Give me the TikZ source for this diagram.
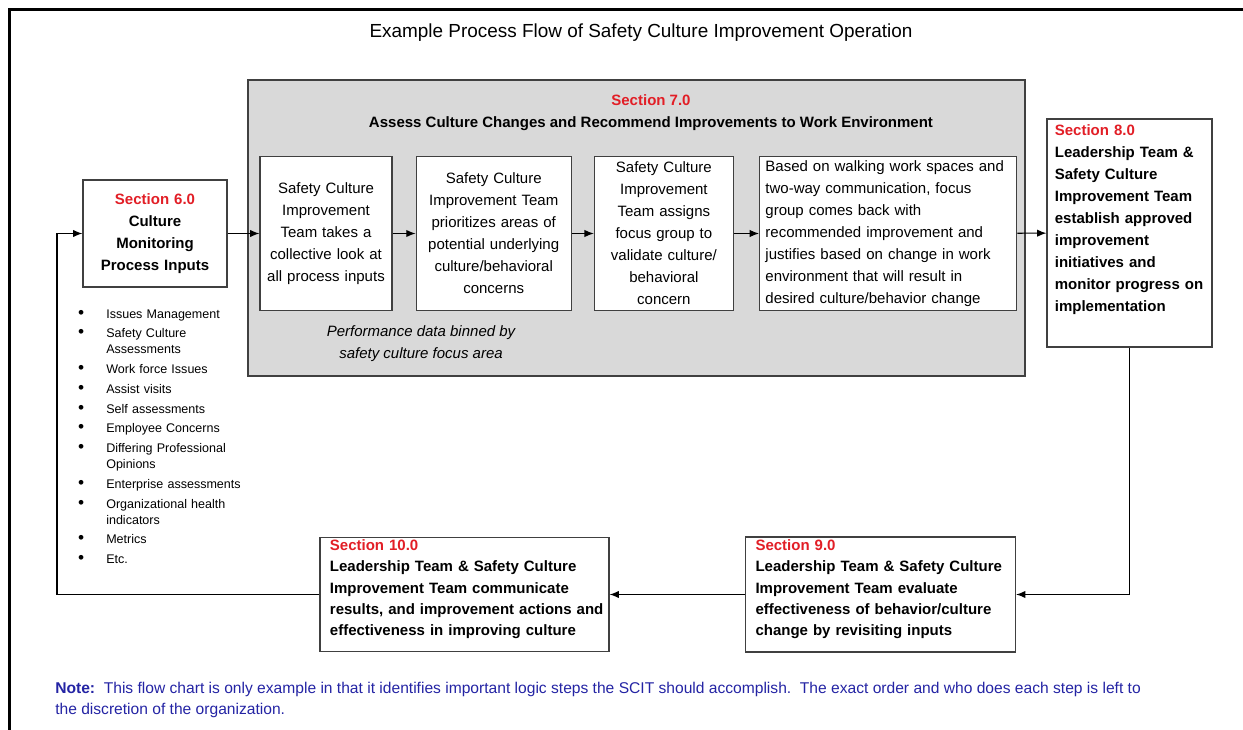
\documentclass[tikz,border=0pt]{standalone}
\usepackage{fontspec}
\setmainfont{Liberation Sans}
\usetikzlibrary{arrows.meta,positioning}

\definecolor{secred}{RGB}{226,30,38}
\definecolor{noteblue}{RGB}{36,36,164}
\definecolor{panelgray}{RGB}{217,217,217}
\definecolor{edgegray}{RGB}{64,64,64}

\newcommand{\redhead}[1]{\textcolor{secred}{#1}}

% bullet list of monitoring inputs
\newenvironment{inputlist}
 {\begin{list}{{\fontsize{13}{12}\selectfont\textbullet}}{\setlength\leftmargin{27pt}\setlength\labelsep{16.5pt}%
   \setlength\labelwidth{8pt}\setlength\itemsep{2.8pt}\setlength\parsep{0pt}%
   \setlength\topsep{0pt}\setlength\partopsep{0pt}}}
 {\end{list}}

\begin{document}
\begin{tikzpicture}[x=0.75pt,y=-0.75pt,>={Latex[length=7pt,width=5.5pt]},
  body/.style={font=\fontsize{11.25}{16.5}\selectfont},
  stepbox/.style={draw=edgegray,fill=white,line width=0.9pt,body,align=center,inner sep=3pt,minimum height=116pt},
  secbox/.style={draw=edgegray,fill=white,line width=0.9pt,inner sep=3pt,font=\bfseries\fontsize{11.25}{16.5}\selectfont,align=left},
  flow/.style={->,line width=0.8pt}]

\useasboundingbox (0,0) rectangle (1243,730);
% frame
\draw[line width=2.4pt] (9.5,730) -- (9.5,9.5) -- (1243,9.5);

\node[font=\fontsize{14.2}{17}\selectfont] (title) at (641,33) {Example Process Flow of Safety Culture Improvement Operation};

% section 7 panel and its steps
\node[draw=edgegray,fill=panelgray,line width=0.9pt,minimum width=582.75pt,minimum height=222pt] (sec7) at (636.5,228) {};
\node[align=center,font=\bfseries\fontsize{11.25}{17}\selectfont] (head7) at (651,112.5) {\redhead{Section 7.0}\\Assess Culture Changes and Recommend Improvements to Work Environment};

\node[stepbox,text width=93pt] (look) at (326,233.5) {Safety Culture\\Improvement\\Team takes a\\collective look at\\all process inputs};
\node[stepbox,text width=110.25pt,right=17.25pt of look] (prio) {Safety Culture\\Improvement Team\\prioritizes areas of\\potential underlying\\culture/behavioral\\concerns};
\node[stepbox,text width=98.25pt,right=16.5pt of prio] (focus) {Safety Culture\\Improvement\\Team assigns\\focus group to\\validate culture/\\behavioral\\concern};
\node[stepbox,text width=184pt,align=left,inner xsep=4.4pt,right=18.75pt of focus] (recom) {Based on walking work spaces and\\two-way communication, focus\\group comes back with\\recommended improvement and\\justifies based on change in work\\environment that will result in\\desired culture/behavior change};

\node[font=\itshape\fontsize{11.25}{17}\selectfont,align=center] (binned) at (421,343.5) {Performance data binned by\\safety culture focus area};

% sections around the panel
\node[secbox,align=center,text width=102pt,minimum height=80.25pt] (s6) at (155,233.5) {\redhead{Section 6.0}\\Culture\\Monitoring\\Process Inputs};
\node[secbox,text width=112pt,inner xsep=5.875pt,inner ysep=2pt,minimum height=171pt] (s8) at (1129.5,233) {\redhead{Section 8.0}\\Leadership Team \&\\Safety Culture\\Improvement Team\\establish approved\\improvement\\initiatives and\\monitor progress on\\implementation\par\vspace{6pt}\null};
\node[secbox,font=\bfseries\fontsize{11.25}{16}\selectfont,text width=187.5pt,inner xsep=7.5pt,inner ysep=1pt,minimum height=86.25pt] (s9) at (880.5,594.5) {\redhead{Section 9.0}\\Leadership Team \& Safety Culture\\Improvement Team evaluate\\effectiveness of behavior/culture\\change by revisiting inputs\par\vspace{-6pt}\null};
\node[secbox,font=\bfseries\fontsize{11.25}{16}\selectfont,text width=209pt,inner xsep=3.875pt,inner ysep=1pt,minimum height=85.5pt] (s10) at (464.5,594.5) {\hspace*{3.6pt}\redhead{Section 10.0}\\\hspace*{3.6pt}Leadership Team \& Safety Culture\\\hspace*{3.6pt}Improvement Team communicate\\\hspace*{3.6pt}results, and improvement actions and\\\hspace*{3.6pt}effectiveness in improving culture\par\vspace{-6pt}\null};

\node[anchor=north west,inner sep=0pt,text width=131pt,font=\fontsize{9.4}{12}\selectfont] (inputs) at (70,302) {%
  \begin{inputlist}
  \item Issues Management
  \item Safety Culture\newline Assessments
  \item Work force Issues
  \item Assist visits
  \item Self assessments
  \item Employee Concerns
  \item Differing Professional\newline Opinions
  \item Enterprise assessments
  \item Organizational health\newline indicators
  \item Metrics
  \item Etc.
  \end{inputlist}};

\coordinate (ret) at (57,233.5);

\draw[flow] (s6) -- (look);
\draw[flow] (look) -- (prio);
\draw[flow] (prio) -- (focus);
\draw[flow] (focus) -- (recom);
\draw[flow] (recom) -- (s8);
\draw[flow] (s8) |- (s9);
\draw[flow] (s9) -- (s10);
\draw[flow] (s10.west) -| (ret) -- (s6);

\node[anchor=north west,align=left,text=noteblue,inner sep=0pt,font=\fontsize{11.7}{15.75}\selectfont] (note) at (55,682) {\textbf{Note:}\ \ This flow chart is only example in that it identifies important logic steps the SCIT should accomplish.\ \ The exact order and who does each step is left to\\the discretion of the organization.};
\end{tikzpicture}
\end{document}
